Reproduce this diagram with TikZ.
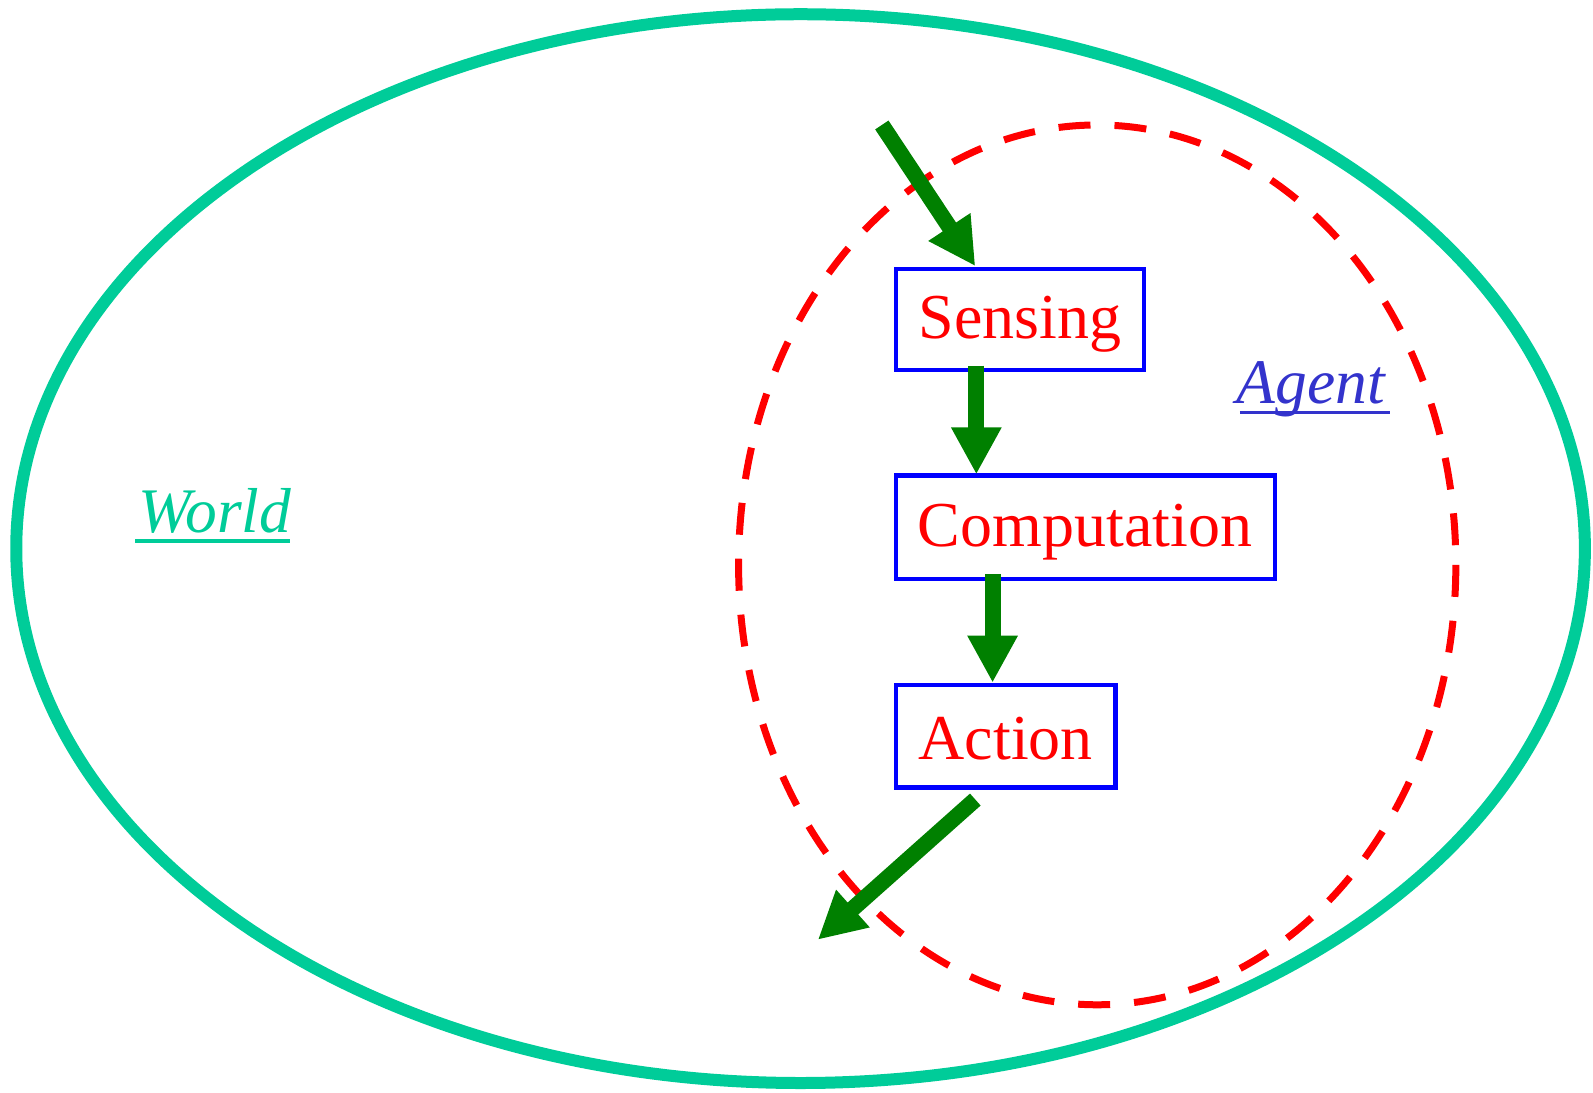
\documentclass[tikz,border=0pt]{standalone}
\usepackage{fontspec}
\setmainfont{Liberation Serif}
\usetikzlibrary{arrows.meta}
\definecolor{worldc}{RGB}{0,204,153}
\definecolor{agentc}{RGB}{51,51,204}
\definecolor{arrowc}{RGB}{0,128,0}
\tikzset{
  stagebox/.style={draw=blue, line width=4.3pt},
  stagetext/.style={text=red, inner sep=0pt, font=\fontsize{64}{76}\selectfont},
  flow/.style={draw=arrowc, line width=16pt, -{Triangle[length=47pt,width=47pt]}},
  italiclabel/.style={font=\fontsize{63.5}{76}\selectfont\itshape, inner sep=0pt, anchor=base west}
}
\begin{document}
\begin{tikzpicture}[x=1.016pt,y=-1.016pt]
\useasboundingbox (0,0) rectangle (1568,1075);
% world ellipse
\draw[worldc, line width=12pt] (788,540) ellipse [x radius=772, y radius=526];
% agent dashed ellipse
\draw[red, line width=7pt, dash pattern=on 32pt off 24pt] (1080,556) ellipse [x radius=353, y radius=433];
% boxes
\draw[stagebox] (882,265) rectangle (1126,364);
\node[stagetext] (sensing) at (1004,319) {Sensing};
\draw[stagebox] (882,468) rectangle (1255,570);
\node[stagetext] (comp) at (1068,524) {Computation};
\draw[stagebox] (882,674) rectangle (1098,775);
\node[stagetext] (action) at (990,727) {Action};
\coordinate (sensTop) at (960,262);
\coordinate (compTop) at (961,467);
\coordinate (actTop) at (977,672);
\coordinate (inStart) at (868,123);
\coordinate (s1) at (961,360);
\coordinate (c1) at (977,565);
\coordinate (a1) at (960,787);
\coordinate (outEnd) at (805,925);
% arrows
\draw[flow] (inStart) -- (sensTop);
\draw[flow] (s1) -- (compTop);
\draw[flow] (c1) -- (actTop);
\draw[flow] (a1) -- (outEnd);
% labels
\node[italiclabel, text=agentc] (agent) at (1217,397) {Agent};
\draw[agentc, line width=3.5pt] (1220.5,406) -- (1368,406);
\node[italiclabel, text=worldc] (world) at (136,524.5) {World};
\draw[worldc, line width=3.5pt] (133,532.5) -- (285.5,532.5);
\end{tikzpicture}
\end{document}
